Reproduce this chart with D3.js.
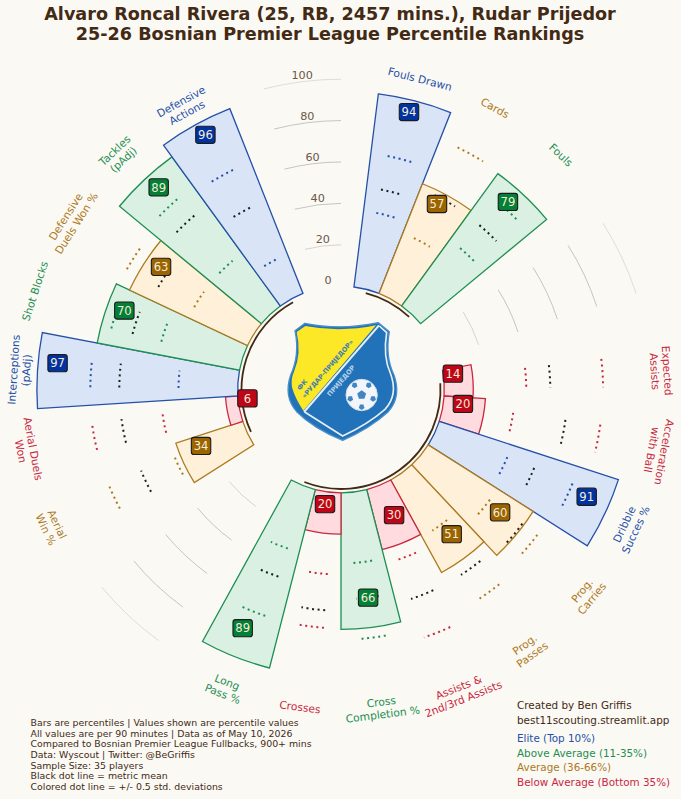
<!DOCTYPE html>
<html><head><meta charset="utf-8">
<script src="https://cdn.jsdelivr.net/npm/d3@7"></script>
<style>html,body{margin:0;padding:0;background:#fbf9f4}svg{display:block}text{font-family:"DejaVu Sans",sans-serif}</style>
</head><body><svg id="c" width="681" height="799"></svg>
<script>
// ---------- data ----------
const categories = ["Fouls Drawn","Cards","Fouls","Expected Assists","Acceleration with Ball","Dribble Succes %","Prog. Carries","Prog. Passes","Assists & 2nd/3rd Assists","Cross Completion %","Crosses","Long Pass %","Aerial Win %","Aerial Duels Won","Interceptions (pAdj)","Shot Blocks","Defensive Duels Won %","Tackles (pAdj)","Defensive Actions"];
const percentiles = [94,57,79,14,20,91,60,51,30,66,20,89,34,6,97,70,63,89,96];
const lowBand  = [37.1,31.3,39.4,39.6,34,36.8,39.6,31.3,36.8,34.1,39.5,31.1,36.8,37.1,28.6,39.9,31.4,31.4,20.3];
const means    = [48.6,54.3,53.9,51.2,59.5,50.8,59.1,56.8,56.8,51.5,57,45.4,54.3,57.1,57.2,54.3,51.3,60,48.3];
const highBand = [65.1,79.9,68.2,76.7,76.5,70.8,68.1,71.3,76.4,70.9,65.5,65.4,71.4,71.5,71.2,64.9,68.7,71.4,68.3];
const labelLines = [["Fouls Drawn"],["Cards"],["Fouls"],["Expected","Assists"],["Acceleration","with Ball"],["Dribble","Succes %"],["Prog.","Carries"],["Prog.","Passes"],["Assists &","2nd/3rd Assists"],["Cross","Completion %"],["Crosses"],["Long","Pass %"],["Aerial","Win %"],["Aerial Duels","Won"],["Interceptions","(pAdj)"],["Shot Blocks"],["Defensive","Duels Won %"],["Tackles","(pAdj)"],["Defensive","Actions"]];
const groups = [["Fouls Drawn","Fouls"],["Expected Assists","Long Pass %"],["Aerial Win %","Defensive Actions"]];
const gridTicks = [0,20,40,60,80,100];
const gridOpacity = {20:.6,40:.85,60:.85,80:.85,100:.45};
const titleLines = ["Alvaro Roncal Rivera (25, RB, 2457 mins.), Rudar Prijedor","25-26 Bosnian Premier League Percentile Rankings"];
const notes = ["Bars are percentiles | Values shown are percentile values","All values are per 90 minutes | Data as of May 10, 2026","Compared to Bosnian Premier League Fullbacks, 900+ mins","Data: Wyscout | Twitter: @BeGriffis","Sample Size: 35 players","Black dot line = metric mean","Colored dot line = +/- 0.5 std. deviations"];
const credits = ["Created by Ben Griffis","best11scouting.streamlit.app"];
const tiers = ["Below Average (Bottom 35%)","Average (36-66%)","Above Average (11-35%)","Elite (Top 10%)"];
const crestWords = ["ФК ","«РУДАР-ПРИЈЕДОР» ","ПРИЈЕДОР"];
// ---------- layout tuning (not data) ----------
const CX=341, CY=389.5;
const badgeR    = [88.1,51,71.4,4.7,9.4,79.6,47.2,38.1,16,51.5,6,74.8,23,-4.5,87.6,61.5,55.3,81.6,89.5];
const badgeTurn = [-.63,-1.44,-1.53,-4.46,-4.05,-1.62,-1.93,-1.42,-1.3,-.22,.74,.79,3.24,5.37,1.7,2.02,1.87,1.15,.77];
const labelPos = [[420,79,14.4],[495,108,28.8],[561,155,43.2],[661,371,86.4],[658,451,100.8],[630,527,-64.8],[587,594.5,-50.4],[528.5,649.5,-36],[461,693,-21.6],[382,708,-7.2],[300,707,7.2],[225,688,21.6],[51.5,527,64.8],[27,450,79.2],[20,370,-86.4],[35,291,-72],[71,220,-57.6],[119,155,-43.2],[184,107,-28.8]];
const palette = {
  edge:{ "Elite (Top 10%)":"#2450a8","Above Average (11-35%)":"#1d8f52","Average (36-66%)":"#ad7a1f","Below Average (Bottom 35%)":"#c9283f"},
  face:{ "Elite (Top 10%)":"#d9e4f7","Above Average (11-35%)":"#daf0e3","Average (36-66%)":"#fff1d9","Below Average (Bottom 35%)":"#ffdbe0"},
  badge:{"Elite (Top 10%)":"#0133a0","Above Average (11-35%)":"#037f36","Average (36-66%)":"#9a6400","Below Average (Bottom 35%)":"#bd0618"}
};
const ink="#432a14";
// ---------- scales ----------
const rad=d=>d*Math.PI/180;
const tierOf=d3.scaleThreshold().domain([34,66,90]).range(tiers);
const r=d3.scaleLinear().domain([0,100]).range([103.3,310.3]);
const slots=[...categories.slice(0,3),"g1a","g1b",...categories.slice(3,12),"g2a","g2b",...categories.slice(12),"g3a","g3b"];
const slot=d3.scaleBand().domain(slots).range([rad(7.2),rad(367.2)]);
const bw=slot.bandwidth();
const mid=c=>slot(c)+bw/2;
const svg=d3.select("#c");
const g=svg.append("g").attr("transform",`translate(${CX},${CY})`);
function arcPath(rr,a0,a1){const p=d3.path();p.arc(0,0,rr,a0-Math.PI/2,a1-Math.PI/2);return p.toString();}
// ---------- grid ----------
["g1b","g2b","g3b"].forEach(k=>{
  gridTicks.filter(t=>t>0).forEach(t=>{
    g.append("path").attr("d",arcPath(r(t),slot(k)-bw/2,slot(k)+bw/2)).attr("fill","none").attr("stroke","#bdbbb5").attr("stroke-opacity",gridOpacity[t]).attr("stroke-width",1);
  });
});
gridTicks.forEach(t=>{
  const a=slot("g3b");
  g.append("text").text(t).attr("x",r(t)*Math.sin(a)).attr("y",-r(t)*Math.cos(a)-6.8).attr("dy",".36em").attr("text-anchor","middle").attr("font-size",11.2).attr("fill","#6a5848");
});
// ---------- bars ----------
const wedge=d3.arc();
categories.forEach((c,i)=>{
  const t=tierOf(percentiles[i]);
  g.append("path").attr("d",wedge({innerRadius:r(0),outerRadius:r(percentiles[i]),startAngle:slot(c),endAngle:slot(c)+bw}))
    .attr("fill",palette.face[t]).attr("stroke",palette.edge[t]).attr("stroke-width",1.3).attr("stroke-linejoin","miter");
});
groups.forEach(([a,b])=>{
  g.append("path").attr("d",arcPath(99.5,mid(a),mid(b))).attr("fill","none").attr("stroke",ink).attr("stroke-width",1.8);
});
// ---------- dotted bands ----------
const span=rad(3.1);
function dots(vals,colorFn,i){
  g.append("path").attr("d",arcPath(r(vals[i]),mid(categories[i])-span,mid(categories[i])+span)).attr("fill","none")
   .attr("stroke",colorFn).attr("stroke-width",2).attr("stroke-dasharray","2,3.6");
}
categories.forEach((c,i)=>{
  const col=palette.edge[tierOf(percentiles[i])];
  dots(lowBand,col,i);dots(highBand,col,i);dots(means,"#1e1e1e",i);
});
// ---------- badges ----------
categories.forEach((c,i)=>{
  const t=tierOf(percentiles[i]);
  const a=mid(c)+rad(badgeTurn[i]), rr=r(badgeR[i]);
  const x=rr*Math.sin(a), y=-rr*Math.cos(a);
  const b=g.append("g").attr("transform",`translate(${x},${y})`);
  b.append("rect").attr("x",-9.7).attr("y",-8.6).attr("width",19.4).attr("height",17.2).attr("rx",2.6)
    .attr("fill",palette.badge[t]).attr("stroke","#1c1c1c").attr("stroke-width",1.1);
  b.append("text").text(percentiles[i]).attr("text-anchor","middle").attr("dy",".36em").attr("font-size",11.6).attr("fill","#f6ecd8");
});
// ---------- category labels ----------
categories.forEach((c,i)=>{
  const [x,y,rot]=labelPos[i];
  const lines=labelLines[i];
  const tx=svg.append("text").attr("transform",`translate(${x},${y}) rotate(${rot})`).attr("text-anchor","middle").attr("font-size",10.7).attr("fill",palette.edge[tierOf(percentiles[i])]);
  lines.forEach((l,j)=>tx.append("tspan").attr("x",0).attr("y",(j-(lines.length-1)/2)*12.6).attr("dy",".36em").text(l));
});
// ---------- titles & notes ----------
titleLines.forEach((l,i)=>svg.append("text").text(l).attr("x",330).attr("y",20+i*20).attr("text-anchor","middle").attr("font-size",17.6).attr("font-weight","bold").attr("fill",ink));
notes.forEach((l,i)=>svg.append("text").text(l).attr("x",30.5).attr("y",726+i*10.65).attr("font-size",9.4).attr("fill",ink));
credits.forEach((l,i)=>svg.append("text").text(l).attr("x",517).attr("y",709+i*14.5).attr("font-size",10.4).attr("fill",ink));
[...tiers].reverse().forEach((l,i)=>svg.append("text").text(l).attr("x",517).attr("y",742+i*14.6).attr("font-size",10.4).attr("fill",palette.edge[l]));
// ---------- crest ----------
const crest=svg.append("g").attr("transform","translate(270,300) scale(.3333)");
const shield="M75,92 L105,70 Q210,92 325,68 L358,95 Q345,170 372,225 Q395,290 355,335 Q300,385 218,421 Q130,385 80,335 Q40,290 62,225 Q90,165 75,92 Z";
crest.append("path").attr("d",shield).attr("fill","#2172b8").attr("stroke","#4b8fc9").attr("stroke-width",4);
crest.append("path").attr("d","M80,96 L106,78 Q210,98 318,76 L100,332 Q75,295 66,262 Q62,235 72,215 Q95,160 80,96 Z").attr("fill","#fde827");
crest.append("path").attr("d","M327,76 L102,336").attr("stroke","#e6eef6").attr("stroke-width",6).attr("fill","none");
crest.append("path").attr("d","M328,78 L350,98 Q338,170 362,222 Q385,285 345,328 Q295,372 218,408 L104,336").attr("fill","none").attr("stroke","#e6eef6").attr("stroke-width",5);
const ball=crest.append("g").attr("transform","translate(275,285)");
ball.append("circle").attr("r",47).attr("fill","#f2f6fa").attr("stroke","#cfe0ee").attr("stroke-width",3);
const pent=(cx,cy,s,rot)=>d3.range(5).map(k=>{const a=rad(rot+72*k);return [cx+s*Math.sin(a),cy-s*Math.cos(a)];});
const line=d3.line().curve(d3.curveLinearClosed);
ball.append("path").attr("d",line(pent(0,0,14,0))).attr("fill","#3f86c2");
d3.range(5).forEach(k=>{const a=rad(36+72*k);ball.append("path").attr("d",line(pent(36*Math.sin(a),-36*Math.cos(a),9,36+72*k))).attr("fill","#3f86c2");});
// crest lettering: a single text run along three diagonal sub-paths; the fill
// changes across the shield's diagonal (dark on yellow, pale on blue).
const crestSize=19.5;
const wordFrom=[[90,272],[104,296],[180,291]];
const dirX=Math.cos(rad(-49)),dirY=Math.sin(rad(-49));
const ruler=crest.append("text").attr("font-weight","bold").attr("font-size",crestSize).style("white-space","pre");
const widths=crestWords.map(w=>{ruler.text(w);return ruler.node().getComputedTextLength();});
ruler.remove();
const seg=crestWords.map((w,i)=>{const [x,y]=wordFrom[i];return `M${x},${y}L${x+widths[i]*dirX},${y+widths[i]*dirY}`;}).join("");
crest.append("path").attr("id","crestLine").attr("d",seg).attr("fill","none");
const grad=svg.append("defs").append("linearGradient").attr("id","crestInk").attr("gradientUnits","userSpaceOnUse")
  .attr("x1",214).attr("y1",206).attr("x2",214+dirY*-1*-50*-1).attr("y2",206+dirX*50);
grad.append("stop").attr("offset",.5).attr("stop-color","#3d7fae");
grad.append("stop").attr("offset",.5).attr("stop-color","#b9d4ea");
const perpX=-dirY,perpY=dirX;
grad.attr("x1",214-perpX*50).attr("y1",206-perpY*50).attr("x2",214+perpX*50).attr("y2",206+perpY*50);
crest.append("text").attr("font-weight","bold").attr("font-size",crestSize).attr("fill","url(#crestInk)").style("white-space","pre").append("textPath").attr("href","#crestLine").text(crestWords.join(""));
</script></body></html>
